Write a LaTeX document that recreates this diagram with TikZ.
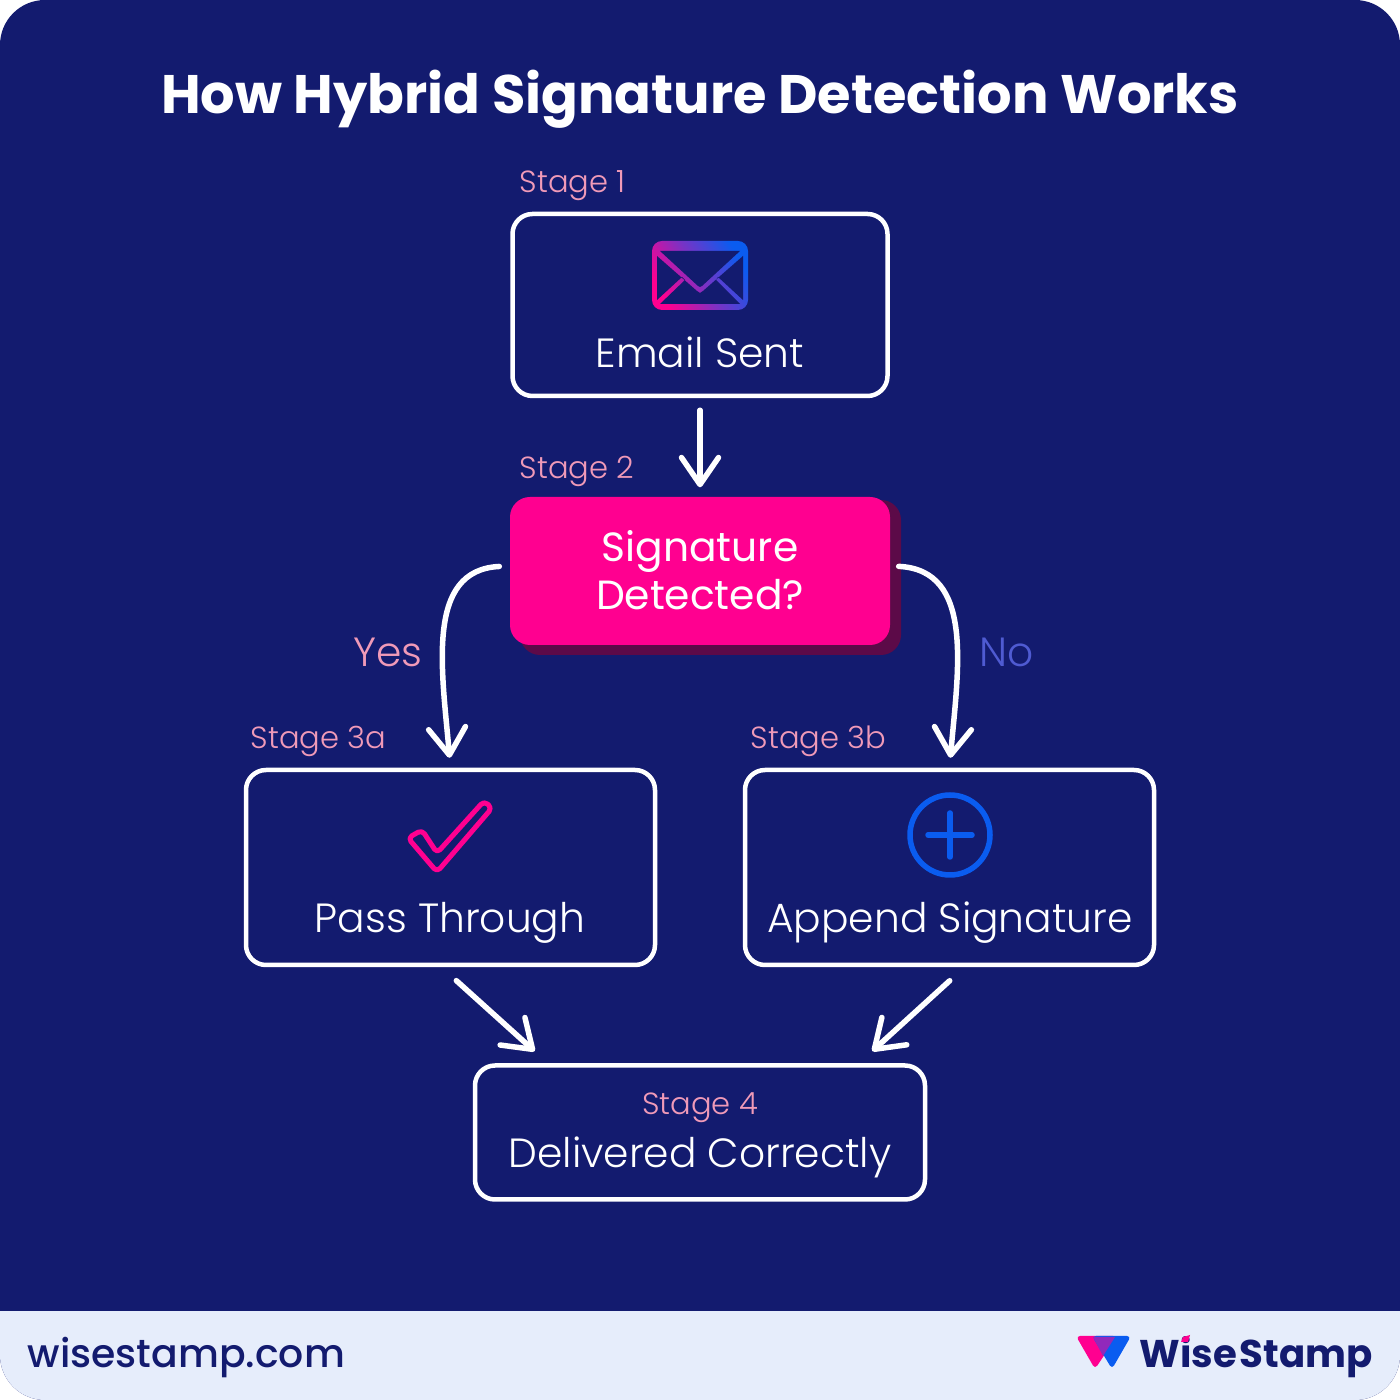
\documentclass[tikz,border=0pt]{standalone}
\usepackage{fontspec}
\usepackage{xcolor}
\usepackage{tikz}
\usetikzlibrary{arrows.meta,positioning,calc}
\setmainfont{Poppins}
\newfontfamily\lightfont{Poppins Light}
\newfontfamily\mediumfont{Poppins Medium}

\definecolor{navybg}{HTML}{131B6F}
\definecolor{bandbg}{HTML}{E6EDFB}
\definecolor{hotpink}{HTML}{FF0090}
\definecolor{darkpink}{HTML}{5C0A48}
\definecolor{softpink}{HTML}{F09AB8}
\definecolor{iconblue}{HTML}{0A5CF0}
\definecolor{softblue}{HTML}{4F5BD2}

\tikzset{
    stagebox/.style={draw=white,line width=0.045cm,rounded corners=0.2cm,inner sep=0pt},
    stagelabel/.style={text=softpink,font=\lightfont\fontsize{8.7}{11}\selectfont,inner sep=0pt,anchor=base west},
    boxtext/.style={text=white,font=\lightfont\fontsize{11.6}{13.6}\selectfont,inner sep=0pt,anchor=base},
    flowarrow/.style={draw=white,line width=0.055cm,line cap=round,
        -{Straight Barb[length=0.27cm,width=0.37cm,round]}}
}

\begin{document}
\begin{tikzpicture}
    \useasboundingbox (0,0) rectangle (14,14);

    % Background
    \begin{scope}
        \clip[rounded corners=0.45cm] (0,0) rectangle (14,14);
        \fill[navybg] (0,0) rectangle (14,14);
        \fill[bandbg] (0,0) rectangle (14,0.89);
    \end{scope}

    % Title
    \node[text=white,font=\bfseries\fontsize{15.43}{18}\selectfont,inner sep=0pt,anchor=base] (title) at (7,12.86) {How Hybrid Signature Detection Works};

    % Boxes
    \node[stagebox,minimum width=3.75cm,minimum height=1.82cm] (sentbox) at (7,10.95) {};
    \fill[darkpink,rounded corners=0.2cm] (5.2,7.45) rectangle (9.01,9.0);
    \node[fill=hotpink,rounded corners=0.2cm,minimum width=3.8cm,minimum height=1.48cm,inner sep=0pt] (sigbox) at (7,8.29) {};
    \node[stagebox,minimum width=4.09cm,minimum height=1.95cm] (passbox) at (4.505,5.325) {};
    \node[stagebox,minimum width=4.09cm,minimum height=1.95cm] (appendbox) at (9.495,5.325) {};
    \node[stagebox,minimum width=4.5cm,minimum height=1.34cm] (delivbox) at (7,2.675) {};

    % Stage labels
    \node[stagelabel] (stageone) at (5.19,12.07) {Stage 1};
    \node[stagelabel] (stagetwo) at (5.19,9.21) {Stage 2};
    \node[stagelabel] (stagea) at (2.5,6.51) {Stage 3a};
    \node[stagelabel] (stageb) at (7.5,6.51) {Stage 3b};
    \node[stagelabel,anchor=base] (stagefour) at (7,2.85) {Stage 4};

    % Box texts
    \node[boxtext] (senttext) at (7,10.32) {Email Sent};
    \node[boxtext,font=\fontsize{11.6}{13.6}\selectfont] (sigtop) at (7,8.38) {Signature};
    \node[boxtext,font=\fontsize{11.6}{13.6}\selectfont] (sigbot) at (7,7.9) {Detected?};
    \node[boxtext] (passtext) at (4.5,4.67) {Pass Through};
    \node[boxtext] (appendtext) at (9.5,4.67) {Append Signature};
    \node[boxtext] (delivtext) at (7,2.32) {Delivered Correctly};

    % Yes and No
    \node[text=softpink,font=\lightfont\fontsize{11.6}{13}\selectfont,inner sep=0pt,anchor=base east] (yeslabel) at (4.23,7.33) {Yes};
    \node[text=softblue,font=\lightfont\fontsize{11.6}{13}\selectfont,inner sep=0pt,anchor=base west] (nolabel) at (9.79,7.33) {No};

    % Envelope
    \shade[left color=hotpink,right color=iconblue,middle color=iconblue!55!hotpink,shading angle=120,rounded corners=0.1cm] (6.52,10.9) rectangle (7.48,11.59);
    \fill[navybg] (6.6,11.49) -- (7.4,11.49) -- (7.02,11.14) -- (7,11.13) -- (6.98,11.14) -- cycle;
    \fill[navybg] (6.57,11.44) -- (6.57,11.0) -- (6.82,11.23) -- (6.85,11.2) -- (6.6,10.96) -- (7.4,10.96) -- (7.16,11.2) -- (7.18,11.23) -- (7.43,11.0) -- (7.43,11.44) -- (7.03,11.09) -- (7,11.07) -- (6.97,11.09) -- cycle;

    % Check
    \draw[hotpink,line width=0.05cm,rounded corners=0.045cm,line join=round] (4.84,5.99) -- (4.37,5.47) -- (4.22,5.7) -- (4.08,5.62) -- (4.37,5.28) -- (4.92,5.92) -- cycle;

    % Plus
    \draw[iconblue,line width=0.055cm] (9.5,5.65) circle (0.4cm);
    \draw[iconblue,line width=0.055cm,line cap=round] (9.28,5.65) -- (9.72,5.65) (9.5,5.43) -- (9.5,5.87);

    % Arrows
    \draw[flowarrow,shorten <=0.12cm,shorten >=0.09cm] (sentbox.south) -- (sigbox.north);
    \draw[flowarrow,shorten <=0.1cm,shorten >=0.1cm] ([yshift=0.05cm]sigbox.west) .. controls (4.25,8.3) and (4.42,7.3) .. (passbox.north);
    \draw[flowarrow,shorten <=0.08cm,shorten >=0.1cm] ([yshift=0.05cm]sigbox.east) .. controls (9.75,8.3) and (9.58,7.3) .. (appendbox.north);
    \draw[flowarrow,shorten <=0.2cm,shorten >=0.18cm] ([xshift=-0.09cm]passbox.south) -- ([xshift=-1.52cm]delivbox.north);
    \draw[flowarrow,shorten <=0.2cm,shorten >=0.18cm] ([xshift=0.15cm]appendbox.south) -- ([xshift=1.59cm]delivbox.north);

    % Footer
    \node[text=navybg,font=\mediumfont\fontsize{11.2}{13}\selectfont,inner sep=0pt,anchor=base west] (sitelabel) at (0.27,0.32) {wisestamp.com};
    \fill[hotpink,rounded corners=0.04cm] (10.76,0.64) -- (11.17,0.64) -- (10.95,0.31) -- cycle;
    \fill[iconblue,rounded corners=0.04cm] (10.92,0.64) -- (11.31,0.64) -- (11.12,0.31) -- cycle;
    \fill[iconblue!45!hotpink] (10.93,0.63) -- (11.15,0.63) -- (11.03,0.44) -- cycle;
    \node[text=navybg,font=\bfseries\fontsize{11}{13}\selectfont,inner sep=0pt,anchor=base west] (wiseword) at (11.39,0.33) {Wise};
    \node[text=navybg,font=\bfseries\fontsize{11}{13}\selectfont,inner sep=0pt,anchor=base west] (stampword) at (12.39,0.33) {Stamp};
    \fill[hotpink] (11.81,0.58) -- (11.88,0.58) -- (11.9,0.65) -- (11.83,0.63) -- cycle;
\end{tikzpicture}
\end{document}
